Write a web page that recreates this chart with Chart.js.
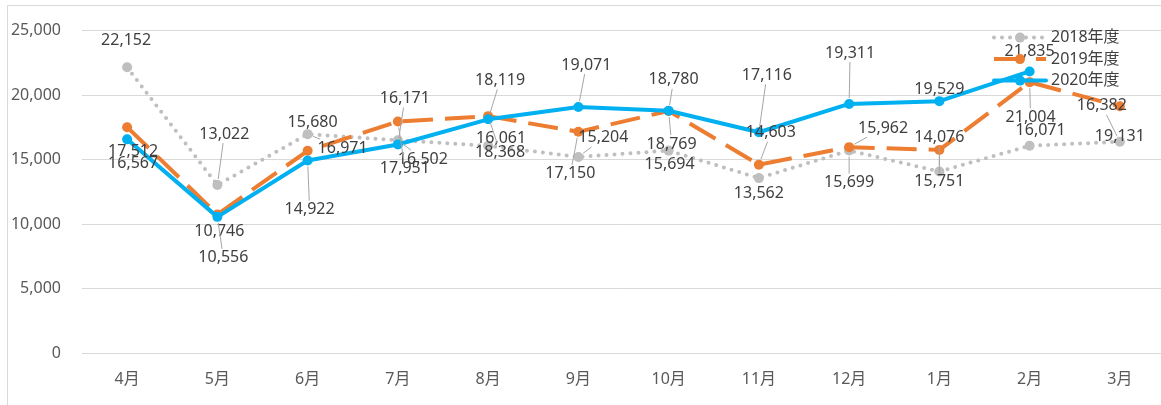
<!DOCTYPE html>
<html>
<head>
<meta charset="utf-8">
<script src="https://cdn.jsdelivr.net/npm/chart.js@4/dist/chart.umd.min.js"></script>
<style>
  html, body { margin: 0; padding: 0; background: #fff; overflow: hidden; }
  #wrap { width: 1170px; height: 405px; position: relative; }
</style>
</head>
<body>
<div id="wrap"><canvas id="chart"></canvas></div>
<script>
// months (fiscal year, Apr -> Mar)
var months = ["4月", "5月", "6月", "7月", "8月", "9月", "10月", "11月", "12月", "1月", "2月", "3月"];
var seriesNames = ["2018年度", "2019年度", "2020年度"];
var fy2018 = [22152, 13022, 16971, 16502, 16061, 15204, 15694, 13562, 15699, 14076, 16071, 16382];
var fy2019 = [17512, 10746, 15680, 17951, 18368, 17150, 18769, 14603, 15962, 15751, 21004, 19131];
var fy2020 = [16567, 10556, 14922, 16171, 18119, 19071, 18780, 17116, 19311, 19529, 21835, null];
var yTicks = [0, 5000, 10000, 15000, 20000, 25000];

// where each data label sits relative to its point (px), like the hand-placed excel labels
var labelShift = [
    [[-1,-27],[7,-51],[35,14],[25,19],[13,-7],[25,-19],[1,14],[0,15],[0,32],[0,-34],[11,-15],[-18,-36]],
    [[6,24],[2,17],[5,-28],[7,47],[12,36],[-8,42],[3,33],[12,-32],[34,-19],[0,32],[1,35],[0,30]],
    [[6,24],[6,41],[2,49],[7,-46],[12,-39],[8,-42],[5,-31],[8,-57],[1,-51],[0,-12],[0,-20],[0,0]]
];

var FONT = '"Noto Sans", "Noto Sans CJK JP", sans-serif';
var colors = ["#bfbfbf", "#ed7d31", "#00b0f0"];

function fmt(v) {
    return v.toLocaleString("en-US");
}

// frame around the whole chart
var framePlugin = {
    id: "frame",
    beforeDraw(chart) {
        var ctx = chart.ctx;
        ctx.save();
        ctx.fillStyle = "#fff";
        ctx.fillRect(0, 0, chart.width, chart.height);
        ctx.strokeStyle = "#d9d9d9";
        ctx.lineWidth = 1;
        ctx.strokeRect(7.5, 5.5, chart.width + 20, chart.height + 20);
        ctx.restore();
    }
};

var labelPlugin = {
    id: "dataLabels",
    afterDatasetsDraw(chart) {
        var ctx = chart.ctx;
        ctx.save();
        ctx.font = "16px " + FONT;
        ctx.textAlign = "center";
        ctx.textBaseline = "middle";
        chart.data.datasets.forEach((ds, si) => {
            var meta = chart.getDatasetMeta(si);
            meta.data.forEach((pt, i) => {
                var v = ds.data[i];
                if (v == null) return;
                var txt = fmt(v);
                var sh = labelShift[si][i];
                var lx = pt.x + sh[0], ly = pt.y + sh[1];
                var dx = pt.x - lx, dy = pt.y - ly;
                var dist = Math.sqrt(dx * dx + dy * dy);
                if (dist > 30) {
                    var w = ctx.measureText(txt).width / 2 + 2;
                    var t = Math.min(dx ? w / Math.abs(dx) : 1e9, dy ? 9 / Math.abs(dy) : 1e9);
                    var sx = lx + dx * t, sy = ly + dy * t;
                    var ex = pt.x - dx / dist * 6, ey = pt.y - dy / dist * 6;
                    if (Math.hypot(ex - sx, ey - sy) > 4) {
                        ctx.strokeStyle = "#a6a6a6";
                        ctx.lineWidth = 1;
                        ctx.beginPath();
                        ctx.moveTo(sx, sy);
                        ctx.lineTo(ex, ey);
                        ctx.stroke();
                    }
                }
                ctx.fillStyle = "#404040";
                ctx.fillText(txt, lx, ly);
            });
        });
        ctx.restore();
    }
};

// legend drawn inside the plot, top right
var legendPlugin = {
    id: "innerLegend",
    afterDraw(chart) {
        var ctx = chart.ctx;
        var area = chart.chartArea;
        var x0 = area.right - 171, x1 = area.right - 119;
        ctx.save();
        chart.data.datasets.forEach((ds, i) => {
            var y = area.top + 7 + i * 21.5;
            ctx.strokeStyle = ds.borderColor;
            ctx.lineWidth = ds.borderWidth;
            ctx.lineCap = ds.borderCapStyle;
            ctx.setLineDash(ds.borderDash);
            ctx.beginPath();
            ctx.moveTo(x0, y);
            ctx.lineTo(x1, y);
            ctx.stroke();
            ctx.setLineDash([]);
            ctx.fillStyle = ds.pointBackgroundColor;
            ctx.beginPath();
            ctx.arc((x0 + x1) / 2, y, ds.pointRadius, 0, Math.PI * 2);
            ctx.fill();
            ctx.fillStyle = "#404040";
            ctx.font = "16px " + FONT;
            ctx.textAlign = "left";
            ctx.textBaseline = "middle";
            ctx.fillText(ds.label, x1 + 5, y);
        });
        ctx.restore();
    }
};

function makeSet(name, data, color, dash, cap, order) {
    return {
        label: name,
        data: data,
        borderColor: color,
        backgroundColor: color,
        pointBackgroundColor: color,
        pointBorderColor: color,
        pointRadius: 5,
        pointBorderWidth: 0,
        borderWidth: 4,
        borderDash: dash,
        borderCapStyle: cap,
        borderJoinStyle: "round",
        tension: 0,
        order: order
    };
}

var chart = new Chart(document.getElementById("chart"), {
    type: "line",
    data: {
        labels: months,
        datasets: [
            makeSet(seriesNames[0], fy2018, colors[0], [0, 8], "round", 3),
            makeSet(seriesNames[1], fy2019, colors[1], [30, 12], "butt", 2),
            makeSet(seriesNames[2], fy2020, colors[2], [], "round", 1)
        ]
    },
    options: {
        responsive: true,
        maintainAspectRatio: false,
        animation: false,
        devicePixelRatio: 1,
        layout: { padding: { top: 30, left: 0, right: 0, bottom: 0 } },
        plugins: {
            legend: { display: false },
            tooltip: { enabled: false }
        },
        scales: {
            x: {
                offset: true,
                grid: { display: false, drawTicks: false },
                border: { display: false },
                ticks: {
                    color: "#595959",
                    font: { family: FONT, size: 16 },
                    padding: 17,
                    maxRotation: 0,
                    autoSkip: false
                },
                afterFit(scale) { scale.height = 52; }
            },
            y: {
                min: 0,
                max: 25000,
                afterBuildTicks(scale) {
                    scale.ticks = yTicks.map(v => ({ value: v }));
                },
                grid: { color: "#d9d9d9", lineWidth: 1, drawTicks: false },
                border: { display: false },
                ticks: {
                    color: "#595959",
                    font: { family: FONT, size: 16 },
                    padding: 21,
                    callback: v => fmt(v)
                },
                afterFit(scale) { scale.width = 82; }
            }
        }
    },
    plugins: [framePlugin, labelPlugin, legendPlugin]
});
</script>
</body>
</html>
